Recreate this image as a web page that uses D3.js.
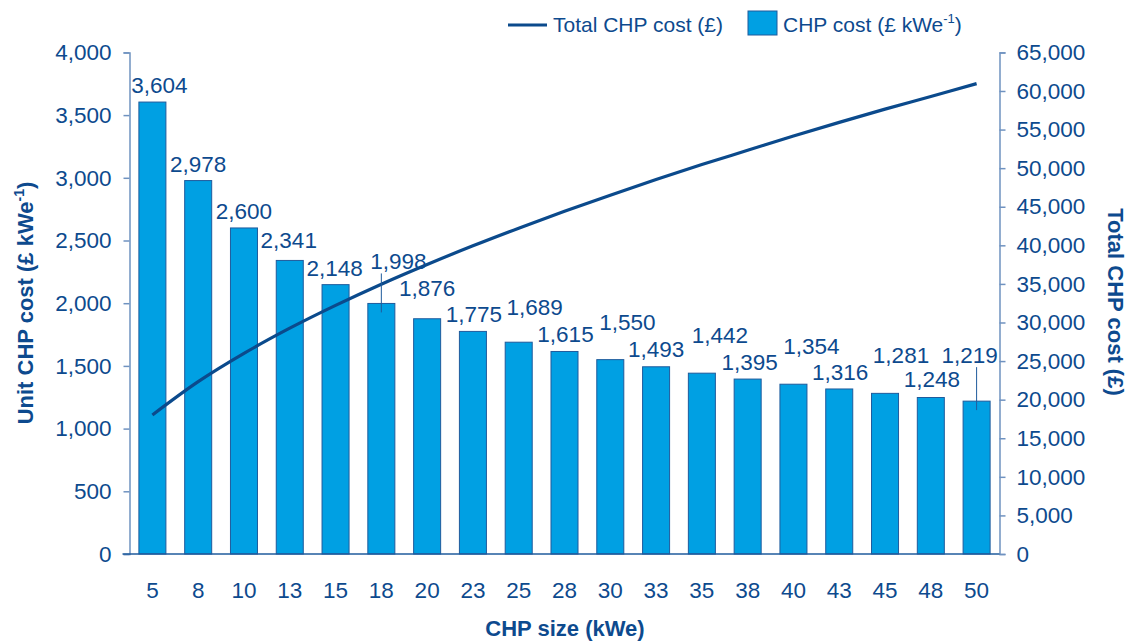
<!DOCTYPE html>
<html>
<head>
<meta charset="utf-8">
<script src="https://cdn.jsdelivr.net/npm/d3@7"></script>
<style>
  body { margin: 0; background: #fff; }
  svg { font-family: "Liberation Sans", Arial, sans-serif; }
</style>
</head>
<body>
<svg id="chart"></svg>
<script>
const sizes = ["5", "8", "10", "13", "15", "18", "20", "23", "25", "28", "30", "33", "35", "38", "40", "43", "45", "48", "50"];
const unitCost = [3604, 2978, 2600, 2341, 2148, 1998, 1876, 1775, 1689, 1615, 1550, 1493, 1442, 1395, 1354, 1316, 1281, 1248, 1219];
const totalCost = [18020, 22335, 26000, 29263, 32220, 34965, 37520, 39938, 42225, 44413, 46500, 48523, 50470, 52313, 54160, 55930, 57645, 59280, 60950];
const leftTicks = [0, 500, 1000, 1500, 2000, 2500, 3000, 3500, 4000];
const rightTicks = [0, 5000, 10000, 15000, 20000, 25000, 30000, 35000, 40000, 45000, 50000, 55000, 60000, 65000];

// hand placed label nudges (dx, extra lift) and which labels get a leader line
const labelDx = [7, 0, 0, -1, -1, 17, 0, 1, 16, 1, 17, 0, 18, 2, 18, 1, 16, 1, -7];
const labelLift = [0, 0, 0, 3, 0, 25, 14, 0, 18, 0, 21, 1, 21, 0, 21, 0, 21, 2, 29];
const leaders = [5, 18];

const width = 1128, height = 643;
const plotLeft = 129.5, plotRight = 999.5, plotTop = 52.4, plotBottom = 554;
const textColor = "#0d4a8e";
const axisColor = "#6f92c0";

const svg = d3.select("#chart").attr("width", width).attr("height", height);

const x = d3.scaleBand().domain(sizes).range([plotLeft, plotRight]).paddingInner(0.41).paddingOuter(0.205);
const yL = d3.scaleLinear().domain([0, 4000]).range([plotBottom, plotTop]);
const yR = d3.scaleLinear().domain([0, 65000]).range([plotBottom, plotTop]);
const fmt = d3.format(",");

// bars
svg.selectAll(".bar")
    .data(unitCost)
    .enter()
    .append("rect")
    .attr("class", "bar")
    .attr("x", (d, i) => x(sizes[i]))
    .attr("y", d => yL(d))
    .attr("width", x.bandwidth())
    .attr("height", d => plotBottom - yL(d))
    .attr("fill", "#00a0e3")
    .attr("stroke", "#1f5b9c")
    .attr("stroke-width", 1);

// left axis
const axL = svg.append("g")
    .attr("transform", `translate(${plotLeft},0)`)
    .call(d3.axisLeft(yL).tickValues(leftTicks).tickFormat(fmt).tickSize(6).tickPadding(12));
axL.select(".domain").attr("stroke", axisColor).attr("stroke-width", 1.5);
axL.selectAll(".tick line").attr("stroke", axisColor).attr("stroke-width", 1.5);
axL.selectAll("text").attr("fill", textColor).style("font-size", "22.5px");

// right axis
const axR = svg.append("g")
    .attr("transform", `translate(${plotRight},0)`)
    .call(d3.axisRight(yR).tickValues(rightTicks).tickFormat(fmt).tickSize(6).tickPadding(11));
axR.select(".domain").attr("stroke", axisColor).attr("stroke-width", 1.5);
axR.selectAll(".tick line").attr("stroke", axisColor).attr("stroke-width", 1.5);
axR.selectAll("text").attr("fill", textColor).style("font-size", "22.5px");

// bottom axis
const axB = svg.append("g")
    .attr("transform", `translate(0,${plotBottom})`)
    .call(d3.axisBottom(x).tickSize(0).tickPadding(28));
axB.select(".domain").attr("d", `M${plotLeft - 7},0H${plotRight}`).attr("stroke", "#1f5b9c").attr("stroke-width", 1.5);
axB.selectAll("text").attr("fill", textColor).style("font-size", "22.5px");

// line
const line = d3.line()
    .x((d, i) => x(sizes[i]) + x.bandwidth() / 2)
    .y(d => yR(d))
    .curve(d3.curveCardinal.tension(0));
svg.append("path")
    .datum(totalCost)
    .attr("d", line)
    .attr("fill", "none")
    .attr("stroke", "#0b4a8c")
    .attr("stroke-width", 3.2);

// leader lines
svg.selectAll(".leader")
    .data(leaders)
    .enter()
    .append("line")
    .attr("class", "leader")
    .attr("x1", i => x(sizes[i]) + x.bandwidth() / 2)
    .attr("x2", i => x(sizes[i]) + x.bandwidth() / 2)
    .attr("y1", i => yL(unitCost[i]) - 9 - labelLift[i] + 4)
    .attr("y2", i => yL(unitCost[i]) + 9)
    .attr("stroke", "#1f5b9c")
    .attr("stroke-width", 1);

// value labels
svg.selectAll(".label")
    .data(unitCost)
    .enter()
    .append("text")
    .attr("class", "label")
    .attr("x", (d, i) => x(sizes[i]) + x.bandwidth() / 2 + labelDx[i])
    .attr("y", (d, i) => yL(d) - 9 - labelLift[i])
    .attr("text-anchor", "middle")
    .attr("fill", textColor)
    .style("font-size", "22.5px")
    .text(d => fmt(d));

// axis titles
const tl = svg.append("text")
    .attr("transform", "translate(33,303) rotate(-90)")
    .attr("text-anchor", "middle")
    .attr("fill", textColor)
    .style("font-size", "22px")
    .style("font-weight", "bold");
tl.append("tspan").text("Unit CHP cost (£ kWe");
tl.append("tspan").attr("dy", -9).style("font-size", "14px").text("-1");
tl.append("tspan").attr("dy", 9).text(")");

svg.append("text")
    .attr("transform", "translate(1108,302) rotate(90)")
    .attr("text-anchor", "middle")
    .attr("fill", textColor)
    .style("font-size", "22px")
    .style("font-weight", "bold")
    .text("Total CHP cost (£)");

svg.append("text")
    .attr("x", 565)
    .attr("y", 636)
    .attr("text-anchor", "middle")
    .attr("fill", textColor)
    .style("font-size", "22px")
    .style("font-weight", "bold")
    .text("CHP size (kWe)");

// legend
const lg = svg.append("g");
lg.append("line")
    .attr("x1", 508).attr("x2", 547).attr("y1", 25).attr("y2", 25)
    .attr("stroke", "#0b4a8c").attr("stroke-width", 3.2);
lg.append("text")
    .attr("x", 553).attr("y", 32)
    .attr("fill", textColor).style("font-size", "21px")
    .text("Total CHP cost (£)");
lg.append("rect")
    .attr("x", 748).attr("y", 11).attr("width", 29).attr("height", 24)
    .attr("fill", "#00a0e3").attr("stroke", "#1f5b9c").attr("stroke-width", 1);
const lt = lg.append("text")
    .attr("x", 783).attr("y", 32)
    .attr("fill", textColor).style("font-size", "21px");
lt.append("tspan").text("CHP cost (£ kWe");
lt.append("tspan").attr("dy", -9).style("font-size", "13px").text("-1");
lt.append("tspan").attr("dy", 9).text(")");
</script>
</body>
</html>
